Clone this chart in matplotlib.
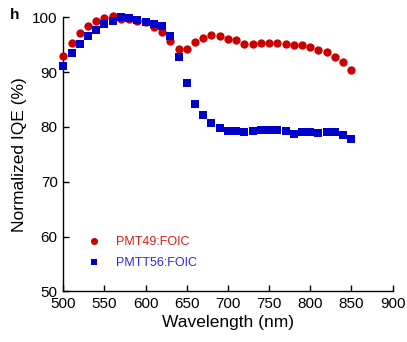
import matplotlib
matplotlib.use("Agg")
import matplotlib.pyplot as plt

plt.rcParams['font.family'] = ['Liberation Sans', 'DejaVu Sans']

# wavelength in nm, 10 nm steps
wavelength = list(range(500, 860, 10))

# normalized IQE (%)
pmt49 = [92.9, 95.4, 97.2, 98.4, 99.4, 99.9, 100.2, 99.6, 99.6, 99.4,
         99.2, 98.3, 97.4, 95.7, 94.3, 94.3, 95.5, 96.3, 96.8, 96.6,
         96.1, 95.8, 95.1, 95.2, 95.4, 95.4, 95.4, 95.2, 94.9, 94.9,
         94.6, 94.1, 93.6, 92.8, 91.9, 90.3]
pmtt56 = [91.1, 93.4, 95.1, 96.5, 97.7, 98.7, 99.4, 100.0, 99.8, 99.5,
          99.1, 98.8, 98.4, 96.6, 92.8, 88.1, 84.1, 82.1, 80.7, 79.8,
          79.3, 79.3, 79.1, 79.3, 79.4, 79.4, 79.4, 79.3, 78.8, 79.0,
          79.1, 78.9, 79.0, 79.0, 78.5, 77.8]

xticks = [500, 550, 600, 650, 700, 750, 800, 850, 900]
yticks = [50, 60, 70, 80, 90, 100]

red = '#cc0000'
blue = '#0000cc'

fig = plt.figure(figsize=(4.07, 3.42), dpi=100)
ax = fig.add_axes([0.1555, 0.1477, 0.809, 0.8017])

ax.plot(wavelength, pmt49, 'o', color=red, markersize=6, markeredgewidth=0,
        clip_on=False, zorder=3, label='PMT49:FOIC')
ax.plot(wavelength, pmtt56, 's', color=blue, markersize=5.8, markeredgewidth=0,
        clip_on=False, zorder=4, label='PMTT56:FOIC')

ax.set_xlim(500, 900)
ax.set_ylim(50, 100)
ax.set_xticks(xticks)
ax.set_yticks(yticks)
ax.tick_params(direction='in', length=4, width=1, labelsize=11, pad=4)
for side in ['top', 'right']:
    ax.spines[side].set_visible(False)
for side in ['left', 'bottom']:
    ax.spines[side].set_linewidth(1)

ax.set_xlabel('Wavelength (nm)', fontsize=12.5, labelpad=3)
ax.set_ylabel('Normalized IQE (%)', fontsize=12.5, labelpad=4)

leg = ax.legend(loc='lower left', bbox_to_anchor=(0.035, 0.04), frameon=False,
                fontsize=9, markerscale=0.85, handlelength=1.2,
                handletextpad=1.2, labelspacing=0.75,
                labelcolor=['#dd1a1a', '#2a2ae0'])

fig.text(0.025, 0.955, 'h', fontsize=11, fontweight='bold', va='center')

fig.savefig('out.png', dpi=100)
